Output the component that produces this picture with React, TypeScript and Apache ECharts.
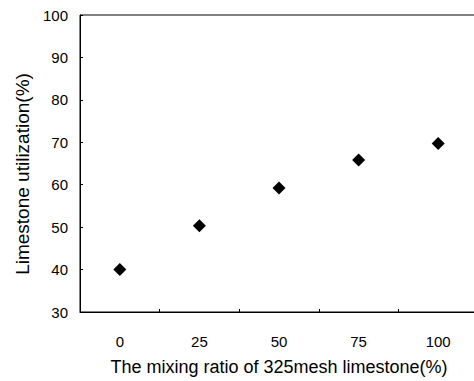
import React, { useEffect, useRef } from "react";
import * as echarts from "echarts";

const categories = ["0", "25", "50", "75", "100"];
const utilization = [40, 50.3, 59.2, 65.8, 69.7];
const yMin = 30;
const yMax = 100;
const yStep = 10;
const xTitle = "The mixing ratio of 325mesh limestone(%)";
const yTitle = "Limestone utilization(%)";

export default function App() {
  const ref = useRef<HTMLDivElement>(null);
  useEffect(() => {
    if (!ref.current) return;
    const chart = echarts.init(ref.current, null, { renderer: "svg" });
    const font = "'Liberation Sans', Arial, sans-serif";
    chart.setOption({
      animation: false,
      backgroundColor: "#ffffff",
      grid: {
        left: 80,
        right: 4,
        top: 15,
        bottom: 68,
        show: true,
        borderColor: "#000",
        borderWidth: 1,
      },
      graphic: [
        {
          type: "text",
          x: 22,
          y: 174,
          rotation: Math.PI / 2,
          style: {
            text: yTitle,
            fontFamily: font,
            fontSize: 19,
            fill: "#000",
            align: "center",
            verticalAlign: "middle",
          },
        },
      ],
      xAxis: {
        type: "category",
        data: categories,
        boundaryGap: true,
        name: xTitle,
        nameLocation: "middle",
        nameGap: 46,
        nameTextStyle: { fontFamily: font, fontSize: 18, color: "#000" },
        axisLine: { show: true, lineStyle: { color: "#000", width: 1 } },
        axisTick: { show: true, inside: true, length: 3, lineStyle: { color: "#000" } },
        axisLabel: { fontFamily: font, fontSize: 15, color: "#000", margin: 22 },
        splitLine: { show: false },
      },
      yAxis: {
        type: "value",
        min: yMin,
        max: yMax,
        interval: yStep,
        axisLine: { show: true, lineStyle: { color: "#000", width: 1 } },
        axisTick: { show: true, inside: true, length: 3, lineStyle: { color: "#000" } },
        axisLabel: { fontFamily: font, fontSize: 15, color: "#000", margin: 12 },
        splitLine: { show: false },
      },
      series: [
        {
          type: "scatter",
          data: utilization,
          symbol: "diamond",
          symbolSize: 13,
          itemStyle: { color: "#000", opacity: 1 },
        },
      ],
    });
    return () => chart.dispose();
  }, []);
  return (
    <div
      style={{
        position: "fixed",
        left: 0,
        top: 0,
        width: 474,
        height: 381,
        overflow: "hidden",
        background: "#fff",
      }}
    >
      <div ref={ref} style={{ width: 482, height: 381 }} />
    </div>
  );
}
